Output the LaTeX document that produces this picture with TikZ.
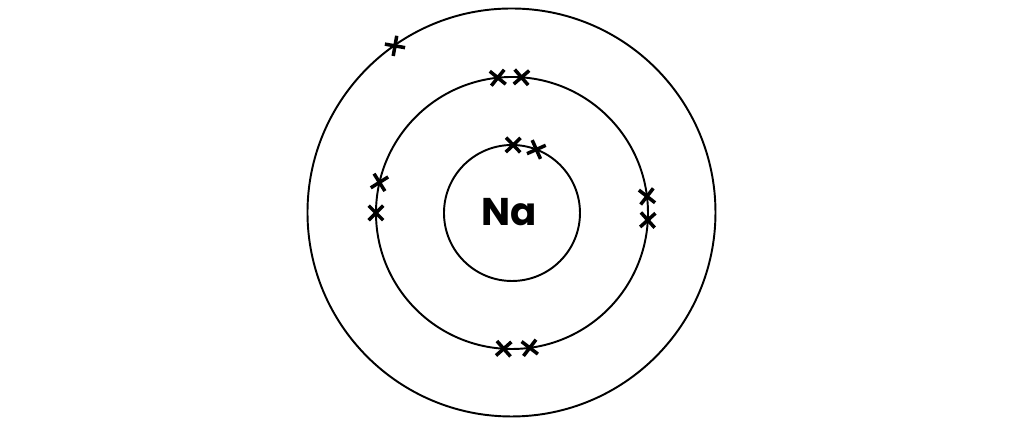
\documentclass[tikz,border=0pt]{standalone}
\usepackage{fontspec}
\newfontfamily\symbolfont{Poppins}
\usetikzlibrary{shapes.misc}
\begin{document}
\begin{tikzpicture}
  \tikzstyle{shell}=[draw, circle, line width=0.55pt, inner sep=0pt]
  \tikzstyle{electron}=[draw, cross out, line width=1pt, minimum size=1.1mm, inner sep=0pt]
  \useasboundingbox (-5.12,-2.18) rectangle (5.03,2.13);

  \node[shell, minimum size=1.36cm] (nucleus) at (0,0) {};
  \node[shell, minimum size=2.72cm] (shell2) at (0,0) {};
  \node[shell, minimum size=4.08cm] (shell3) at (-0.005,0.005) {};
  \node[font=\symbolfont\bfseries\fontsize{11}{11}\selectfont] (na) at (-0.03,0.01) {Na};

  % first shell
  \foreach \a [count=\i] in {89,69}
    \node[electron, rotate=\a] (e1\i) at (\a:0.68) {};
  % second shell
  \foreach \a [count=\i] in {96,86,167,180,7,-3,266.5,277.5}
    \node[electron, rotate=\a] (e2\i) at (\a:1.36) {};
  % third shell
  \node[electron, rotate=125] (e31) at (125:2.04) {};
\end{tikzpicture}
\end{document}
